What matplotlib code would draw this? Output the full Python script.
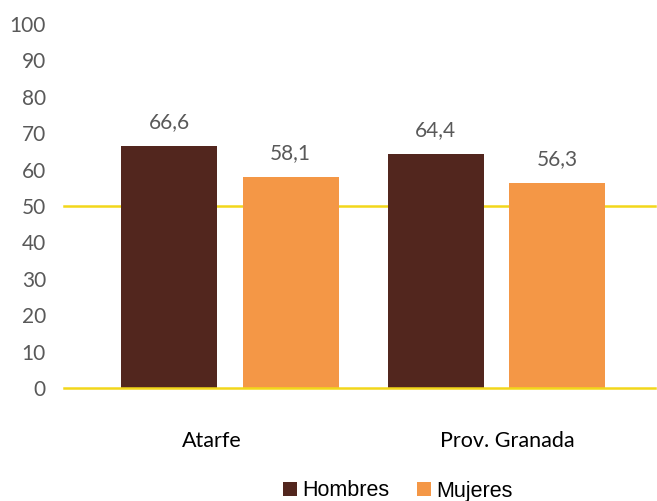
import numpy as np
import matplotlib.pyplot as plt

categories = ["Atarfe", "Prov. Granada"]
hombres = [66.6, 64.4]
mujeres = [58.1, 56.3]
series_names = ["Hombres", "Mujeres"]

c_h = "#52261e"
c_m = "#f49746"
grey = "#595959"

fig = plt.figure(figsize=(6.57, 5.01), dpi=100)
ax = fig.add_axes([64/657, 1-388/501, 591/657, 364/501])

x = np.arange(len(categories))
w = 0.36
off = 0.228
b1 = ax.bar(x - off, hombres, w, color=c_h, label=series_names[0], zorder=3)
b2 = ax.bar(x + off, mujeres, w, color=c_m, label=series_names[1], zorder=3)

for bars, vals in [(b1, hombres), (b2, mujeres)]:
    for b, v in zip(bars, vals):
        ax.annotate(f"{v:.1f}".replace(".", ","), (b.get_x() + b.get_width()/2, v),
                    xytext=(0, 10), textcoords="offset points", ha="center", va="bottom",
                    fontsize=15, color=grey, family="Lato")

ax.set_xlim(-0.622, 1.594)
ax.set_ylim(0, 100)
ax.set_yticks(range(0, 101, 10))
ax.tick_params(axis="y", length=0, labelsize=15, labelcolor=grey, pad=13)
for lab in ax.get_yticklabels():
    lab.set_family("Lato")
ax.set_xticks([])
for s in ax.spines.values():
    s.set_visible(False)
for yv in [0, 50]:
    ax.axhline(yv, color="#f2d71a", lw=1.8, zorder=4 if yv == 0 else 2, clip_on=False)

for i, cat in enumerate(categories):
    ax.text(0.25 + 0.5*i, -53/364, cat, transform=ax.transAxes, ha="center", va="center",
            fontsize=15.5, color="black", family="Lato")

fig.legend(handles=[b1, b2], loc="center", bbox_to_anchor=(398/657, 1-491/501), ncol=2,
           frameon=False, prop={"family": "Liberation Sans", "size": 15.5},
           handlelength=0.65, handleheight=0.65, handletextpad=0.25, columnspacing=1.3)

fig.savefig("out.png", dpi=100)
